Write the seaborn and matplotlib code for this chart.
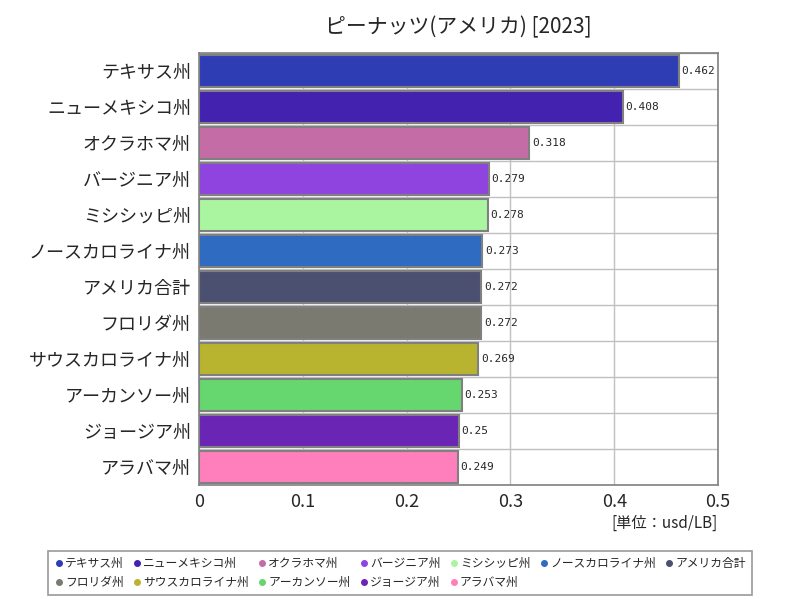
import numpy as np
import pandas as pd
import seaborn as sns
import matplotlib
matplotlib.use('Agg')
import matplotlib.pyplot as plt
from matplotlib.lines import Line2D

states = ['テキサス州', 'ニューメキシコ州', 'オクラホマ州', 'バージニア州', 'ミシシッピ州',
          'ノースカロライナ州', 'アメリカ合計', 'フロリダ州', 'サウスカロライナ州',
          'アーカンソー州', 'ジョージア州', 'アラバマ州']
values = [0.462, 0.408, 0.318, 0.279, 0.278, 0.273, 0.272, 0.272, 0.269, 0.253, 0.25, 0.249]
colors = ['#2f3db5', '#4422b0', '#c46ca6', '#8f44e0', '#aaf5a0', '#2f6bc0',
          '#4c5070', '#7a7a70', '#b8b430', '#66d66f', '#6b25b5', '#ff7fbc']
value_labels = ['0.462', '0.408', '0.318', '0.279', '0.278', '0.273',
                '0.272', '0.272', '0.269', '0.253', '0.25', '0.249']

sns.set_style('white')
plt.rcParams['font.family'] = ['Noto Sans CJK JP', 'DejaVu Sans']

df = pd.DataFrame({'state': states, 'value': values})
palette = dict(zip(states, colors))

fig = plt.figure(figsize=(8, 6), dpi=100)
ax = fig.add_axes([0.249, 0.192, 0.6485, 0.72])
sns.barplot(data=df, y='state', x='value', hue='state', palette=palette, legend=False,
            ax=ax, width=0.9, edgecolor='#808080', linewidth=1.5, saturation=1)

ax.set_xlim(0, 0.5)
ax.set_ylim(len(states) - 0.5, -0.5)
ax.set_xticks([0, 0.1, 0.2, 0.3, 0.4, 0.5])
ax.set_xticklabels(['0', '0.1', '0.2', '0.3', '0.4', '0.5'], fontsize=13)
ax.set_yticks(range(len(states)))
ax.set_yticklabels(states, fontsize=13)
ax.set_yticks(np.arange(len(states) + 1) - 0.5, minor=True)
ax.tick_params(axis='both', which='both', length=0)
ax.tick_params(axis='x', pad=6)
ax.tick_params(axis='y', pad=6)
ax.grid(axis='x', which='major', color='#c0c0c0', linewidth=1)
ax.grid(axis='y', which='minor', color='#c0c0c0', linewidth=1)
ax.set_axisbelow(True)
ax.set_xlabel('')
ax.set_ylabel('')
for s in ax.spines.values():
    s.set_color('#808080')
    s.set_linewidth(1.2)

for c, lab in zip(ax.containers, value_labels):
    ax.bar_label(c, labels=[lab], padding=2, fontsize=8, family='DejaVu Sans Mono')

ax.set_title('ピーナッツ(アメリカ) [2023]', fontsize=15, pad=14)
fig.text(0.8975, 0.128, '[単位：usd/LB]', ha='right', va='center', fontsize=11)

handles = [Line2D([], [], marker='o', linestyle='', markersize=4,
                  markerfacecolor=c, markeredgecolor=c) for c in colors]
# row-major ordering for a 2-row legend with 7 columns
order = []
for col in range(7):
    order.append(col)
    if col + 7 < len(states):
        order.append(col + 7)
leg = fig.legend([handles[i] for i in order], [states[i] for i in order], ncol=7,
                 loc='center', bbox_to_anchor=(0.5, 0.045), fontsize=8.5,
                 frameon=True, fancybox=False, edgecolor='#808080',
                 handletextpad=0.1, columnspacing=0.75, borderpad=0.5,
                 handlelength=0.8)
leg.get_frame().set_linewidth(1.2)

fig.savefig('out.png', dpi=100)
